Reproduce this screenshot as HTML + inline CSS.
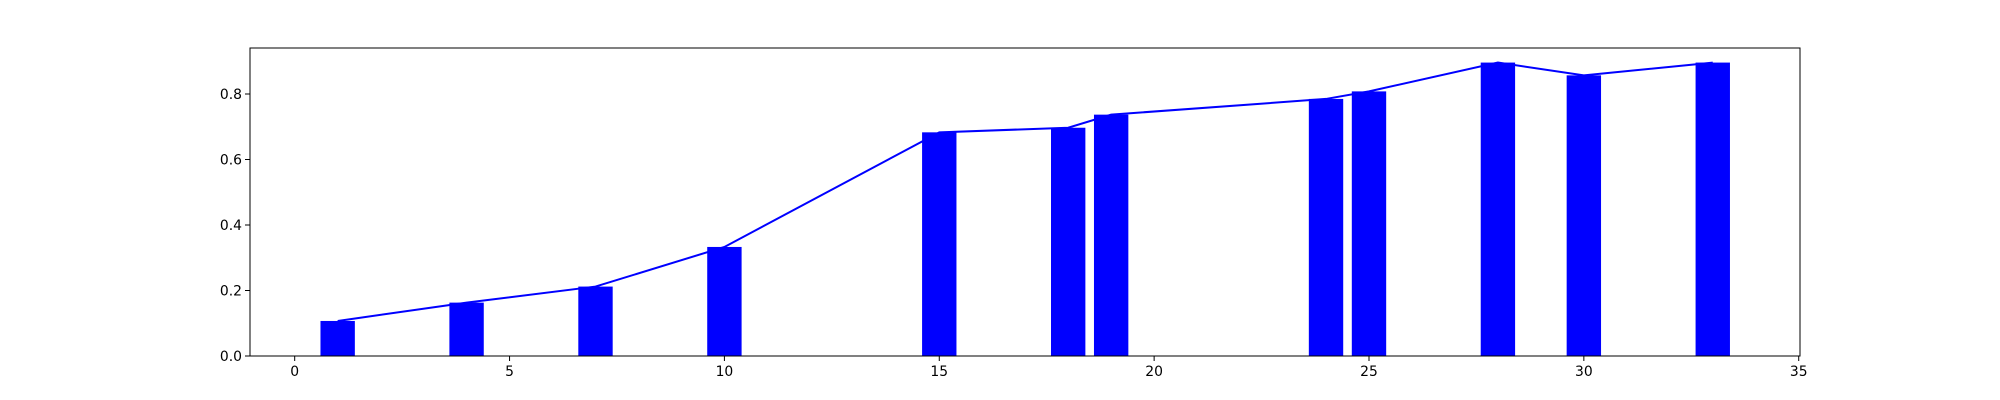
<!DOCTYPE html>
<html><head><meta charset="utf-8"><style>
html,body{margin:0;padding:0;background:#fff;width:2000px;height:400px;overflow:hidden}
text{font-family:"DejaVu Sans","Liberation Sans",sans-serif;font-size:13.9px;fill:#000}
</style></head><body>
<svg id="chart" width="2000" height="400" xmlns="http://www.w3.org/2000/svg"></svg>
<script>
const categories = [1, 4, 7, 10, 15, 18, 19, 24, 25, 28, 30, 33];
const values = [0.107, 0.163, 0.212, 0.333, 0.683, 0.697, 0.737, 0.785, 0.808, 0.896, 0.857, 0.896];
const xTicks = [0, 5, 10, 15, 20, 25, 30, 35];
const yTicks = [0.0, 0.2, 0.4, 0.6, 0.8];
const barWidth = 0.8;

const L = 250, R = 1800, T = 48, B = 356;
const xMin = -1.04, xMax = 35.03, yMin = 0, yMax = 0.9405;
const sx = v => L + (v - xMin) / (xMax - xMin) * (R - L);
const sy = v => B - (v - yMin) / (yMax - yMin) * (B - T);
const NS = 'http://www.w3.org/2000/svg';
const svg = document.getElementById('chart');
function mk(tag, attrs, parent) {
  const e = document.createElementNS(NS, tag);
  for (const k in attrs) e.setAttribute(k, attrs[k]);
  (parent || svg).appendChild(e);
  return e;
}
const bars = mk('g', {});


categories.forEach((c, i) => {
  const x0 = sx(c - barWidth / 2), x1 = sx(c + barWidth / 2);
  const r = mk('rect', {x: x0, y: sy(values[i]), width: x1 - x0, height: sy(0) - sy(values[i]), fill: '#0000ff'}, bars);
  
  
});
const pts = categories.map((c, i) => sx(c) + ',' + sy(values[i])).join(' ');
const line = mk('polyline', {points: pts, fill: 'none', stroke: '#0000ff', 'stroke-width': 2});


const frame = mk('rect', {x: L, y: T, width: R - L, height: B - T, fill: 'none', stroke: '#000', 'stroke-width': 1});


const xAxis = mk('g', {});


xTicks.forEach(t => {
  const x = sx(t);
  mk('line', {x1: x, x2: x, y1: B, y2: B + 5, stroke: '#000', 'stroke-width': 1}, xAxis);
  const tx = mk('text', {x: x, y: B + 20, 'text-anchor': 'middle'}, xAxis);
  tx.textContent = t;
  
  
});
const yAxis = mk('g', {});


yTicks.forEach(t => {
  const y = sy(t);
  mk('line', {x1: L - 5, x2: L, y1: y, y2: y, stroke: '#000', 'stroke-width': 1}, yAxis);
  const tx = mk('text', {x: L - 8, y: y + 5, 'text-anchor': 'end'}, yAxis);
  tx.textContent = t.toFixed(1);
  
  
});
</script>
</body></html>
